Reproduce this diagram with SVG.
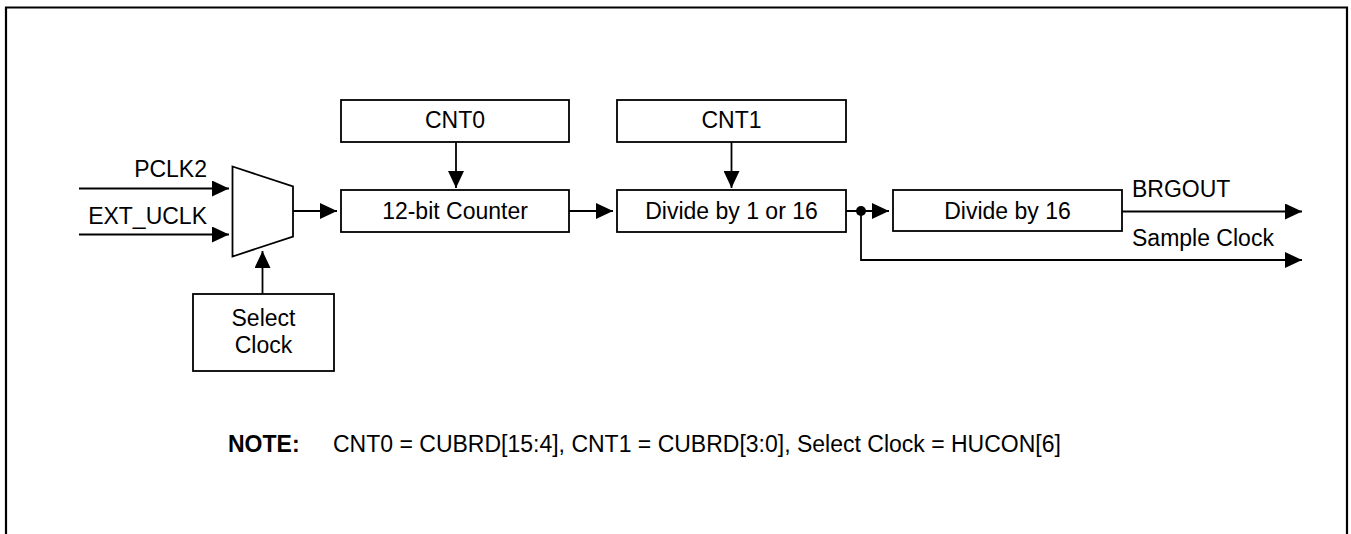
<svg xmlns="http://www.w3.org/2000/svg" width="1351" height="534" viewBox="0 0 1351 534">
<style>
.box{fill:#fff;stroke:#000;stroke-width:1.8}
.ln{fill:none;stroke:#000;stroke-width:1.8}
.t{font-family:"Liberation Sans",Arial,sans-serif;font-size:23px;fill:#000}
.c{text-anchor:middle}
.b{font-weight:bold}
</style>
<defs>
<marker id="ah" markerUnits="userSpaceOnUse" markerWidth="17" markerHeight="16" refX="17" refY="8" orient="auto">
<path d="M0,0 L17,8 L0,16 Z" fill="#000"/>
</marker>
</defs>
<rect width="1351" height="534" fill="#fff"/>
<path d="M6,534 V7.5 H1347 V534" fill="none" stroke="#000" stroke-width="2.2"/>

<g id="connectors">
<path class="ln" d="M79,188.5 H229" marker-end="url(#ah)"/>
<path class="ln" d="M79,234.5 H229" marker-end="url(#ah)"/>
<path class="ln" d="M293,211 H337" marker-end="url(#ah)"/>
<path class="ln" d="M262.5,294 V251" marker-end="url(#ah)"/>
<path class="ln" d="M456,142 V188" marker-end="url(#ah)"/>
<path class="ln" d="M731.5,142 V188" marker-end="url(#ah)"/>
<path class="ln" d="M569,211 H613" marker-end="url(#ah)"/>
<path class="ln" d="M846,211 H889" marker-end="url(#ah)"/>
<path class="ln" d="M1122,211.5 H1302" marker-end="url(#ah)"/>
<path class="ln" d="M861,211 V260 H1302" marker-end="url(#ah)"/>
<circle cx="861" cy="211" r="5" fill="#000"/>
</g>

<g id="labels">
<text class="t" x="207" y="177" text-anchor="end">PCLK2</text>
<text class="t" x="207" y="224" text-anchor="end">EXT_UCLK</text>
<text class="t" x="1132" y="197">BRGOUT</text>
<text class="t" x="1132" y="246">Sample Clock</text>
</g>

<g id="mux">
<path class="box" d="M232.5,166.5 L293,186.5 V236.5 L232.5,256.5 Z"/>
</g>
<g id="select-clock">
<rect class="box" x="193" y="294" width="141" height="77"/>
<text class="t c" x="263.5" y="326">Select</text>
<text class="t c" x="263.5" y="353">Clock</text>
</g>
<g id="cnt0">
<rect class="box" x="341" y="100" width="228" height="42"/>
<text class="t c" x="455" y="128">CNT0</text>
</g>
<g id="counter">
<rect class="box" x="341" y="190" width="228" height="42"/>
<text class="t c" x="455" y="219">12-bit Counter</text>
</g>
<g id="cnt1">
<rect class="box" x="617" y="100" width="229" height="42"/>
<text class="t c" x="731.5" y="128">CNT1</text>
</g>
<g id="divide1or16">
<rect class="box" x="617" y="190" width="229" height="42"/>
<text class="t c" x="731.5" y="219">Divide by 1 or 16</text>
</g>
<g id="divide16">
<rect class="box" x="893" y="190" width="229" height="41"/>
<text class="t c" x="1007.5" y="219">Divide by 16</text>
</g>
<g id="note">
<text class="t b" x="228" y="452">NOTE:</text>
<text class="t" x="333" y="452">CNT0 = CUBRD[15:4], CNT1 = CUBRD[3:0], Select Clock = HUCON[6]</text>
</g>
</svg>
